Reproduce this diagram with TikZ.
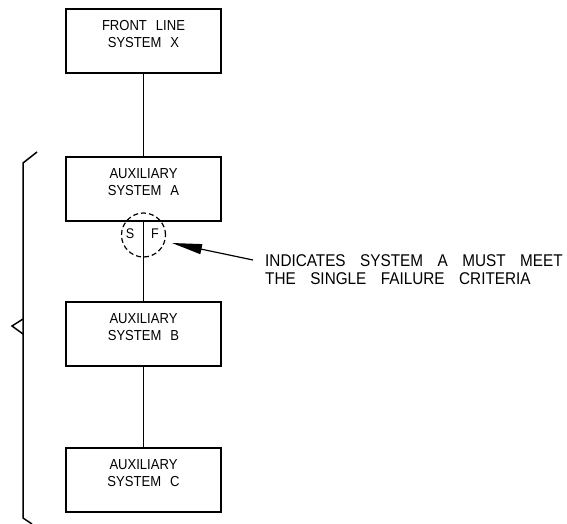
\documentclass[tikz,border=0pt]{standalone}
\usepackage{fontspec}
\setmainfont{Liberation Sans}[FakeStretch=0.9]
\usetikzlibrary{arrows.meta}
\tikzset{
  sysbox/.style={draw, line width=2pt, minimum width=155pt, minimum height=64pt, inner sep=0pt},
  boxtext/.style={align=center, inner sep=0pt, font=\fontsize{14.5pt}{17pt}\selectfont},
  link/.style={line width=1.2pt},
  noteline/.style={align=left, inner sep=0pt, font=\fontsize{17pt}{18pt}\selectfont},
  sfletter/.style={inner sep=0pt, font=\fontsize{14pt}{16pt}\selectfont},
  bracketline/.style={line width=1.5pt, line join=miter},
}
\begin{document}
\begin{tikzpicture}[x=1pt,y=-1pt]
\useasboundingbox (0,0) rectangle (567,524);
% boxes
\node[sysbox] (X) at (143.5,41) {};
\node[sysbox] (A) at (143.5,189) {};
\node[sysbox] (B) at (143.5,334) {};
\node[sysbox] (C) at (143.5,480) {};
\node[boxtext] (Xt) at ([yshift=6.5pt]X.center) {{\spaceskip=9pt FRONT LINE}\\{\spaceskip=9pt SYSTEM X}};
\node[boxtext] (At) at ([yshift=6.5pt]A.center) {AUXILIARY\\{\spaceskip=9pt SYSTEM A}};
\node[boxtext] (Bt) at ([yshift=6.5pt]B.center) {AUXILIARY\\{\spaceskip=9pt SYSTEM B}};
\node[boxtext] (Ct) at ([yshift=6.5pt]C.center) {AUXILIARY\\{\spaceskip=9pt SYSTEM C}};
% connectors
\draw[link] (X.south) -- (A.north);
\draw[link] (A.south) -- (B.north);
\draw[link] (B.south) -- (C.north);
% single failure circle
\node[draw, circle, dashed, dash pattern=on 5pt off 3pt, line width=1.2pt, minimum size=44pt, inner sep=0pt] (SF) at (143.5,235) {};
\node[sfletter] (S) at (130,234) {S};
\node[sfletter] (F) at (155,234) {F};
% note
\node[noteline, anchor=west] (note) at (265,270) {{\spaceskip=14.5pt INDICATES SYSTEM A MUST MEET}\\{\spaceskip=14.5pt THE SINGLE FAILURE CRITERIA}};
\coordinate (tail) at (253,260);
\coordinate (tip) at (172,243);
\draw[line width=1.2pt, -{Triangle[length=30pt,width=10pt]}] (tail) -- (tip);
% bracket
\coordinate (bt) at (37,152);
\coordinate (b1) at (23,163);
\coordinate (n1) at (23,319);
\coordinate (nt) at (12,326);
\coordinate (n2) at (23,334);
\coordinate (b2) at (23,518);
\coordinate (bb) at (32,524);
\draw[bracketline] (bt) -- (b1) -- (b2) -- (bb);
\draw[bracketline] (n1) -- (nt) -- (n2);
\end{tikzpicture}
\end{document}
